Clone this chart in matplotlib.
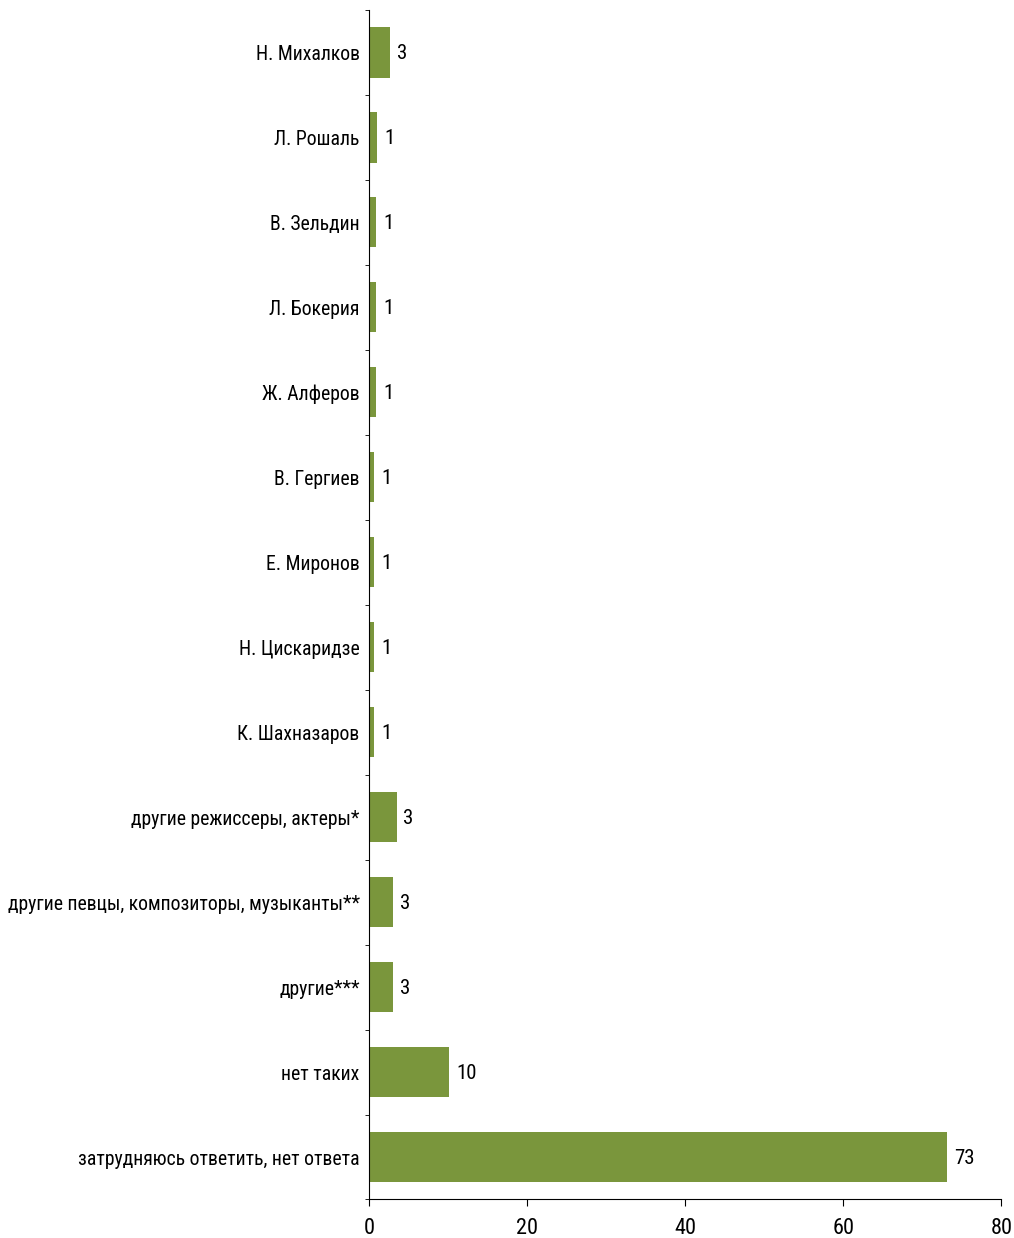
import numpy as np
import matplotlib.pyplot as plt
from matplotlib import font_manager

labels = ["Н. Михалков", "Л. Рошаль", "В. Зельдин", "Л. Бокерия", "Ж. Алферов",
          "В. Гергиев", "Е. Миронов", "Н. Цискаридзе", "К. Шахназаров",
          "другие режиссеры, актеры*", "другие певцы, композиторы, музыканты**",
          "другие***", "нет таких", "затрудняюсь ответить, нет ответа"]
values = [2.6, 1.0, 0.85, 0.85, 0.85, 0.6, 0.6, 0.6, 0.6, 3.45, 3.0, 3.0, 10.1, 73.1]
shown = ["3", "1", "1", "1", "1", "1", "1", "1", "1", "3", "3", "3", "10", "73"]
xticks = [0, 20, 40, 60, 80]

names = {f.name for f in font_manager.fontManager.ttflist}
fam = [f for f in ["Roboto Condensed", "Liberation Sans Narrow", "Open Sans"] if f in names] + ["DejaVu Sans"]
plt.rcParams['font.family'] = fam

bar_col = '#7a963c'

fig = plt.figure(figsize=(10.14, 12.38), dpi=100)
ax = fig.add_axes([0.3642, 0.0311, 0.9875 - 0.3642, 0.9919 - 0.0311])

y = np.arange(len(labels))
ax.barh(y, values, height=0.59, color=bar_col)
for yi, v, s in zip(y, values, shown):
    ax.annotate(s, (v, yi), xytext=(5, -1), textcoords='offset points',
                va='center', ha='left', fontsize=15)

ax.set_ylim(len(labels) - 0.5, -0.5)
ax.set_xlim(0, 80)
ax.set_yticks(y)
ax.set_yticklabels(labels, fontsize=14.2)
ax.set_yticks(np.arange(len(labels) + 1) - 0.5, minor=True)
ax.tick_params(axis='y', which='major', length=0, pad=7)
ax.tick_params(axis='y', which='minor', length=3, direction='out')
ax.set_xticks(xticks)
ax.tick_params(axis='x', length=5, direction='out', labelsize=16, pad=8)

for s in ['top', 'right']:
    ax.spines[s].set_visible(False)

fig.savefig('out.png', dpi=100)
